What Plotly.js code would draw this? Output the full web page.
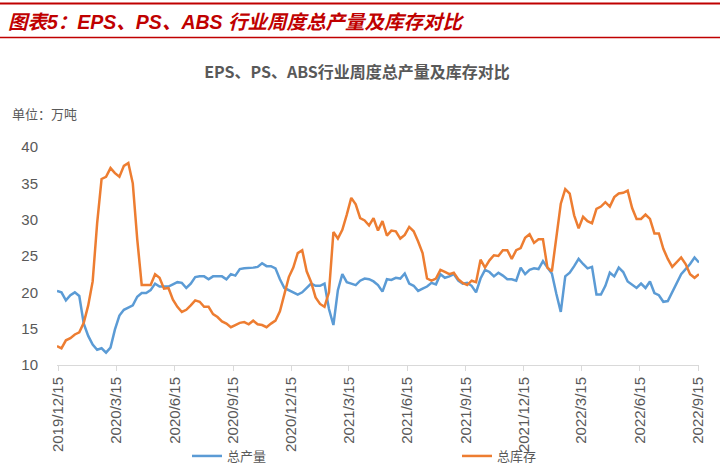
<!DOCTYPE html>
<html>
<head>
<meta charset="utf-8">
<script src="https://cdn.plot.ly/plotly-3.0.1.min.js"></script>
<style>html,body{margin:0;padding:0;background:#fff;}#chart{width:720px;height:466px;}</style>
</head>
<body>
<div id="chart"></div>
<script>
var dates = [
"2019-12-13","2019-12-20","2019-12-27",
"2020-01-03","2020-01-10","2020-01-17","2020-01-24","2020-01-31","2020-02-07","2020-02-14","2020-02-21","2020-02-28",
"2020-03-06","2020-03-13","2020-03-20","2020-03-27","2020-04-03","2020-04-10","2020-04-17","2020-04-24",
"2020-05-01","2020-05-08","2020-05-15","2020-05-22","2020-05-29","2020-06-05","2020-06-12","2020-06-19","2020-06-26",
"2020-07-03","2020-07-10","2020-07-17","2020-07-24","2020-07-31","2020-08-07","2020-08-14","2020-08-21","2020-08-28",
"2020-09-04","2020-09-11","2020-09-18","2020-09-25","2020-10-02","2020-10-09","2020-10-16","2020-10-23","2020-10-30",
"2020-11-06","2020-11-13","2020-11-20","2020-11-27","2020-12-04","2020-12-11","2020-12-18","2020-12-25",
"2021-01-01","2021-01-08","2021-01-15","2021-01-22","2021-01-29","2021-02-05","2021-02-12","2021-02-19","2021-02-26",
"2021-03-05","2021-03-12","2021-03-19","2021-03-26","2021-04-02","2021-04-09","2021-04-16","2021-04-23","2021-04-30",
"2021-05-07","2021-05-14","2021-05-21","2021-05-28","2021-06-04","2021-06-11","2021-06-18","2021-06-25",
"2021-07-02","2021-07-09","2021-07-16","2021-07-23","2021-07-30","2021-08-06","2021-08-13","2021-08-20","2021-08-27",
"2021-09-03","2021-09-10","2021-09-17","2021-09-24","2021-10-01","2021-10-08","2021-10-15","2021-10-22","2021-10-29",
"2021-11-05","2021-11-12","2021-11-19","2021-11-26","2021-12-03","2021-12-10","2021-12-17","2021-12-24","2021-12-31",
"2022-01-07","2022-01-14","2022-01-21","2022-01-28","2022-02-04","2022-02-11","2022-02-18","2022-02-25",
"2022-03-04","2022-03-11","2022-03-18","2022-03-25","2022-04-01","2022-04-08","2022-04-15","2022-04-22","2022-04-29",
"2022-05-06","2022-05-13","2022-05-20","2022-05-27","2022-06-03","2022-06-10","2022-06-17","2022-06-24",
"2022-07-01","2022-07-08","2022-07-15","2022-07-22","2022-07-29","2022-08-05","2022-08-12","2022-08-19","2022-08-26",
"2022-09-02","2022-09-09","2022-09-16"
];

// 总产量 (万吨)
var production = [
20.2,20.0,18.9,19.6,20.0,19.5,15.7,14.0,12.8,12.1,
12.3,11.7,12.4,14.9,16.8,17.6,17.9,18.2,19.4,19.9,
19.9,20.3,21.2,20.8,20.8,20.8,21.1,21.4,21.3,20.6,
21.2,22.1,22.2,22.2,21.8,22.2,22.2,22.2,21.8,22.5,
22.3,23.2,23.3,23.3,23.4,23.5,24.0,23.6,23.6,23.3,
21.8,20.6,20.3,20.0,19.7,20.0,20.6,21.2,20.9,20.9,
21.2,17.7,15.5,20.3,22.5,21.4,21.2,21.0,21.6,21.9,
21.8,21.5,21.0,20.1,21.8,21.7,22.0,21.9,22.6,21.2,
20.9,20.2,20.5,20.8,21.3,21.1,22.5,22.0,22.2,22.5,
21.6,21.2,21.3,20.9,20.0,21.9,23.1,22.8,22.2,22.7,
22.3,21.8,21.8,21.6,23.4,22.5,23.1,23.3,23.2,24.3,
23.4,22.6,19.8,17.3,22.2,22.7,23.6,24.6,23.9,23.3,
23.5,19.7,19.7,20.9,22.7,22.2,23.4,22.8,21.5,21.0,
20.6,21.2,20.6,21.5,19.9,19.6,18.7,18.8,20.0,21.1,
22.5,23.2,23.9,24.8,24.1
];

// 总库存 (万吨)
var inventory = [
12.6,12.3,13.4,13.7,14.2,14.5,15.8,18.2,21.5,29.5,
35.6,35.9,37.1,36.4,35.9,37.4,37.8,35.0,27.3,21.0,
21.0,21.0,22.5,22.0,20.5,20.6,19.0,18.0,17.3,17.6,
18.2,18.9,18.7,18.0,18.0,17.0,16.6,16.0,15.7,15.2,
15.5,15.8,15.9,15.6,16.1,15.6,15.5,15.2,15.7,16.1,
17.4,19.9,22.1,23.4,25.4,25.8,22.9,21.4,19.3,18.4,
18.0,20.0,28.3,27.4,28.6,30.7,33.0,32.1,30.2,29.9,
29.2,30.2,28.5,29.8,27.8,28.5,28.4,27.4,27.9,29.0,
28.4,27.0,25.4,21.9,21.6,21.9,23.1,22.8,22.5,22.7,
21.8,21.3,21.0,21.6,21.4,24.5,23.4,24.4,25.1,25.0,
25.8,25.8,24.6,25.8,26.1,27.5,28.0,26.8,27.3,27.3,
23.4,22.9,27.6,32.2,34.2,33.6,30.6,28.8,30.4,29.8,
29.5,31.5,31.8,32.4,31.8,33.1,33.6,33.7,34.0,31.6,
30.1,30.1,30.7,30.1,28.1,28.1,26.0,24.6,23.5,24.2,
24.8,23.9,22.5,22.0,22.5
];

var tickDates = ["2019-12-15","2020-03-15","2020-06-15","2020-09-15","2020-12-15","2021-03-15",
                 "2021-06-15","2021-09-15","2021-12-15","2022-03-15","2022-06-15","2022-09-15"];
var tickLabels = ["2019/12/15","2020/3/15","2020/6/15","2020/9/15","2020/12/15","2021/3/15",
                  "2021/6/15","2021/9/15","2021/12/15","2022/3/15","2022/6/15","2022/9/15"];

var seriesNames = ["总产量","总库存"];
var headerText = "图表5：EPS、PS、ABS 行业周度总产量及库存对比";
var chartTitle = "EPS、PS、ABS行业周度总产量及库存对比";
var unitText = "单位：万吨";

// layout geometry (pixels)
var W = 720, H = 466;
var PL = 57, PR = 699, PT = 147, PB = 365;
function px(x){ return (x - PL) / (PR - PL); }
function py(y){ return (PB - y) / (PB - PT); }

var grey = "#595959";
var fontLatin = "'Liberation Sans', Arial, 'Noto Sans CJK SC', sans-serif";

var traces = [
  {x: dates, y: production, name: seriesNames[0], type: "scatter", mode: "lines",
   line: {color: "#5b9bd5", width: 2.5}},
  {x: dates, y: inventory, name: seriesNames[1], type: "scatter", mode: "lines",
   line: {color: "#ed7d31", width: 2.5}}
];

var layout = {
  width: W, height: H,
  margin: {l: PL, r: W - PR, t: PT, b: H - PB, autoexpand: false},
  paper_bgcolor: "#ffffff", plot_bgcolor: "#ffffff",
  font: {family: fontLatin, color: grey, size: 14},
  title: {
    text: "<b>" + chartTitle + "</b>",
    xref: "paper", x: px(357), xanchor: "center",
    yref: "container", y: 1 - 72 / H, yanchor: "middle",
    font: {family: "'Liberation Sans Narrow', 'Noto Sans CJK SC', sans-serif", size: 16, color: grey}
  },
  xaxis: {
    type: "date",
    range: ["2019-12-13", "2022-09-16"],
    tickmode: "array", tickvals: tickDates, ticktext: tickLabels,
    tickangle: -90, ticks: "outside", ticklen: 5, tickcolor: "#d9d9d9", tickwidth: 1,
    showline: true, linecolor: "#d9d9d9", linewidth: 1,
    showgrid: false, zeroline: false,
    tickfont: {family: fontLatin, size: 15, color: grey}
  },
  yaxis: {
    range: [10, 40], dtick: 5, tick0: 10,
    showgrid: false, zeroline: false, showline: false, ticks: "",
    ticklabelstandoff: 18,
    tickfont: {family: fontLatin, size: 15, color: grey}
  },
  showlegend: true,
  legend: {
    orientation: "h",
    x: px(187), xanchor: "left",
    y: py(441), yanchor: "top",
    entrywidth: 225, entrywidthmode: "pixels",
    font: {family: "'Noto Sans CJK SC', sans-serif", size: 13, color: grey},
    bgcolor: "rgba(0,0,0,0)"
  },
  shapes: [
    {type: "line", xref: "paper", yref: "paper", x0: px(0), x1: px(W), y0: py(3.5), y1: py(3.5),
     line: {color: "#c00000", width: 2}},
    {type: "line", xref: "paper", yref: "paper", x0: px(0), x1: px(W), y0: py(37.5), y1: py(37.5),
     line: {color: "#c00000", width: 1.5}}
  ],
  annotations: [
    {text: "<b><i>" + headerText + "</i></b>", xref: "paper", yref: "paper",
     x: px(6), y: py(22), xanchor: "left", yanchor: "middle", showarrow: false,
     font: {family: "'Liberation Sans', 'Noto Sans CJK SC', sans-serif", size: 19.5, color: "#c00000"}},
    {text: unitText, xref: "paper", yref: "paper",
     x: px(10), y: py(114), xanchor: "left", yanchor: "middle", showarrow: false,
     font: {family: "'Noto Sans CJK SC', sans-serif", size: 13, color: grey}}
  ]
};

Plotly.newPlot("chart", traces, layout, {displayModeBar: false, staticPlot: true});
</script>
</body>
</html>
